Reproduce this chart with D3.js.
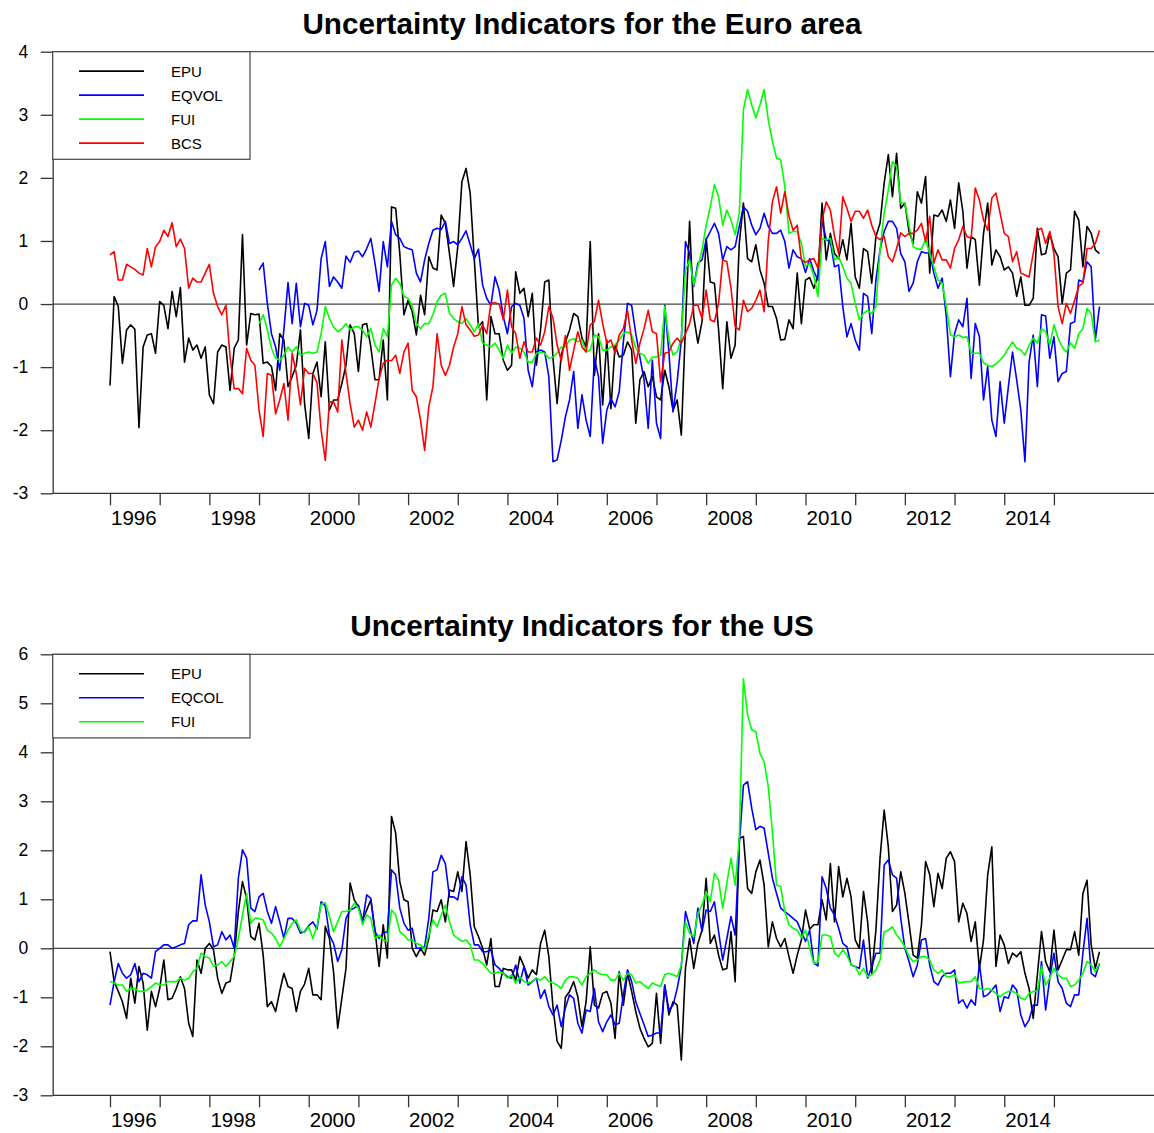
<!DOCTYPE html>
<html>
<head>
<meta charset="utf-8">
<script src="https://cdn.jsdelivr.net/npm/d3@7"></script>
<style>
  body { margin: 0; background: #ffffff; }
  text { font-family: "Liberation Sans", Arial, sans-serif; }
</style>
</head>
<body>
<div id="chart"></div>
<script>
// *****************************************************************************
// data (monthly, standardised)
// *****************************************************************************

var tickYears = [1996, 1997, 1998, 1999, 2000, 2001, 2002, 2003, 2004, 2005,
  2006, 2007, 2008, 2009, 2010, 2011, 2012, 2013, 2014, 2015];
var labelYears = [1996, 1998, 2000, 2002, 2004, 2006, 2008, 2010, 2012, 2014];
var euTicks = [-3, -2, -1, 0, 1, 2, 3, 4];
var usTicks = [-3, -2, -1, 0, 1, 2, 3, 4, 5, 6];

var euTitle = "Uncertainty Indicators for the Euro area";
var usTitle = "Uncertainty Indicators for the US";
var euNames = ["EPU", "EQVOL", "FUI", "BCS"];
var usNames = ["EPU", "EQCOL", "FUI"];
var seriesColors = ["#000000", "#0000ff", "#00ff00", "#ff0000"];

var startYear = 1996;      // Jan 1996
var euVolStartYear = 1999; // Jan 1999

var euEPU = [-1.29, 0.12, -0.04, -0.94, -0.41, -0.33, -0.40, -1.96, -0.68, -0.49,
  -0.47, -0.78, 0.04, -0.02, -0.39, 0.20, -0.20, 0.26, -0.92, -0.54,
  -0.73, -0.65, -0.86, -0.68, -1.44, -1.58, -0.76, -0.65, -0.68, -1.37,
  -0.70, -0.57, 1.10, -0.65, -0.15, -0.17, -0.16, -0.94, -0.92, -0.99,
  -1.37, -0.47, -0.57, -1.31, -1.15, -0.97, -0.41, -1.58, -2.13, -1.10,
  -0.92, -1.47, -0.60, -1.68, -1.52, -1.52, -1.26, -0.97, -0.33, -0.47,
  -1.07, -0.33, -0.31, -0.68, -1.20, -1.20, -0.57, -1.52, 1.54, 1.52,
  0.80, -0.17, 0.06, -0.12, -0.49, 0.14, -0.17, 0.75, 0.57, 0.54,
  1.41, 1.28, 0.80, 0.28, 0.91, 1.94, 2.15, 1.76, 0.70, -0.36,
  -0.28, -1.52, -0.20, -0.47, -0.47, -0.89, -1.05, -0.97, 0.51, 0.17,
  0.25, -0.20, 0.17, -0.97, -0.41, 0.35, 0.38, -0.86, -1.58, -0.80,
  -0.60, -0.41, -0.15, -0.20, -0.54, -0.68, 0.99, -1.13, -0.47, -1.60,
  -0.57, -1.66, -0.65, -0.84, -0.81, -0.60, -0.73, -1.89, -1.20, -1.07,
  -1.31, -1.15, -1.47, -1.52, -1.05, -1.31, -1.68, -1.52, -2.08, -0.36,
  1.31, -0.20, -0.62, -0.28, 1.04, 0.35, 0.33, -0.41, -1.34, -0.28,
  -0.86, -0.65, 0.96, 1.60, 0.72, 0.67, 0.94, 0.54, 0.33, -0.04,
  -0.04, -0.23, -0.57, -0.56, -0.25, -0.39, 0.49, -0.31, 0.38, 0.42,
  0.25, 0.45, 1.60, 0.70, 1.12, 0.80, 0.72, 1.02, 0.70, 1.28,
  0.43, 0.25, 0.88, 0.83, 0.33, 1.07, 1.28, 1.92, 2.37, 1.70,
  2.39, 1.52, 1.60, 1.15, 0.96, 1.78, 1.60, 2.02, 0.49, 1.41,
  1.39, 1.49, 1.31, 1.65, 1.20, 1.92, 1.47, 0.57, 1.07, 1.02,
  0.30, 1.12, 1.60, 0.62, 0.86, 0.75, 0.54, 0.59, 0.49, 0.12,
  0.43, -0.02, -0.02, 0.09, 1.20, 0.78, 0.80, 1.12, 0.88, 0.75,
  0.01, 0.49, 0.54, 1.47, 1.33, 0.59, 1.23, 1.12, 0.86, 0.80];

var euEQVOL = [0.54, 0.65, 0.01, -0.47,
  -0.68, -1.05, -0.41, 0.34, -0.31, 0.33, -0.36, 0.01, -0.02, -0.33,
  -0.10, 0.72, 0.99, 0.28, 0.43, 0.35, 0.25, 0.76, 0.66, 0.82,
  0.84, 0.75, 0.88, 1.04, 0.65, 0.20, 0.99, 0.59, 1.31, 1.10,
  1.04, 0.91, 0.88, 0.86, 0.49, 0.35, 0.70, 0.96, 1.17, 1.20,
  1.18, 1.31, 0.96, 0.99, 0.94, 1.04, 1.16, 0.94, 0.72, 0.87,
  0.30, 0.09, -0.02, 0.43, 0.22, -0.20, -0.47, -0.04, 0.01, -0.02,
  -0.23, -1.05, -1.31, -0.76, -0.73, -0.76, -1.15, -2.50, -2.47, -2.16,
  -1.79, -1.52, -1.07, -1.97, -1.44, -1.84, -2.10, -0.86, -1.15, -2.21,
  -1.68, -1.50, -1.63, -1.39, -0.60, 0.01, -0.02, -0.47, -0.84, -1.20,
  -1.97, -0.89, -1.89, -2.13, -0.02, -0.76, -1.71, -1.23, -0.57, 0.99,
  0.80, 0.28, 0.65, 0.70, 1.02, 1.15, 1.28, 1.12, 0.70, 0.91,
  0.86, 0.91, 1.23, 1.54, 1.47, 1.25, 1.10, 1.20, 1.44, 1.23,
  1.12, 1.12, 1.17, 0.99, 0.57, 0.86, 0.75, 0.72, 0.50, 0.72,
  0.52, 0.38, 1.33, 1.02, 0.99, 0.59, 0.62, -0.04, -0.52, -0.31,
  -0.57, -0.73, 0.17, 0.12, -0.47, 0.38, 0.86, 1.15, 1.31, 1.31,
  1.20, 0.80, 0.67, 0.20, 0.33, 0.67, 0.83, 0.81, 0.81, 0.49,
  0.25, 0.41, -0.20, -1.15, -0.47, -0.25, -0.36, 0.09, -1.18, -0.31,
  -0.52, -1.52, -0.99, -1.84, -2.10, -1.23, -1.89, -1.31, -0.76, -1.20,
  -1.68, -2.50, -0.92, -0.49, -1.31, -0.17, -0.19, -0.86, -0.52, -1.23,
  -1.10, -1.07, -0.31, -0.28, 0.38, 0.35, 0.67, 0.59, -0.57, -0.04];

var euFUI = [-0.31, -0.17, -0.41, -0.70,
  -0.86, -0.89, -0.81, -0.68, -0.76, -0.68, -0.81, -0.78, -0.76, -0.78,
  -0.76, -0.47, -0.04, -0.23, -0.36, -0.44, -0.39, -0.31, -0.41, -0.36,
  -0.36, -0.41, -0.52, -0.39, -0.65, -0.76, -0.39, -0.52, 0.30, 0.41,
  0.33, 0.12, 0.09, -0.04, -0.31, -0.39, -0.31, -0.31, -0.17, 0.04,
  0.14, 0.17, -0.15, -0.23, -0.28, -0.31, -0.23, -0.33, -0.44, -0.31,
  -0.62, -0.65, -0.68, -0.62, -0.73, -0.86, -0.65, -0.78, -0.68, -0.70,
  -0.76, -0.92, -0.92, -0.78, -0.76, -0.78, -0.86, -0.84, -0.78, -0.68,
  -0.68, -0.57, -0.55, -0.60, -0.57, -0.76, -0.73, -0.49, -0.52, -0.73,
  -0.73, -0.68, -0.65, -0.57, -0.47, -0.44, -0.49, -0.70, -0.78, -0.81,
  -0.94, -0.84, -0.84, -0.81, -0.04, -0.57, -0.81, -0.76, -0.54, 0.54,
  0.70, 0.30, 0.59, 0.86, 1.25, 1.54, 1.89, 1.70, 1.25, 1.49,
  1.33, 1.10, 1.44, 3.08, 3.40, 3.16, 2.95, 3.16, 3.40, 2.92,
  2.58, 2.31, 2.29, 1.86, 1.12, 1.15, 1.15, 0.96, 0.60, 0.64,
  0.45, 0.12, 1.04, 1.02, 1.04, 0.70, 0.75, 0.59, 0.41, 0.33,
  0.01, -0.25, -0.15, -0.10, -0.15, -0.04, 0.86, 1.44, 1.81, 2.26,
  2.18, 1.60, 1.60, 1.25, 0.91, 0.87, 0.87, 1.02, 0.80, 0.59,
  0.38, 0.33, -0.04, -0.49, -0.52, -0.49, -0.53, -0.52, -0.78, -0.78,
  -0.78, -0.93, -0.97, -0.99, -0.95, -0.89, -0.81, -0.70, -0.60, -0.70,
  -0.73, -0.81, -0.65, -0.54, -0.62, -0.39, -0.44, -0.65, -0.33, -0.54,
  -0.68, -0.76, -0.62, -0.70, -0.47, -0.39, -0.07, -0.15, -0.60, -0.57];

var euBCS = [0.78, 0.83, 0.38, 0.38, 0.63, 0.59, 0.55, 0.49, 0.46, 0.88,
  0.59, 0.91, 0.99, 1.17, 1.07, 1.29, 0.91, 1.03, 0.88, 0.25,
  0.41, 0.35, 0.35, 0.49, 0.63, 0.17, -0.04, -0.17, -0.02, -0.84,
  -1.34, -1.34, -1.42, -0.70, -0.89, -0.97, -1.68, -2.10, -1.10, -1.13,
  -1.74, -1.52, -1.26, -1.84, -0.78, -1.10, -1.60, -1.02, -1.10, -1.10,
  -1.25, -2.00, -2.48, -1.55, -1.55, -1.71, -0.57, -1.10, -1.58, -1.95,
  -1.84, -2.00, -1.71, -1.95, -1.58, -1.18, -0.94, -0.89, -0.90, -0.81,
  -1.10, -0.76, -0.62, -1.37, -1.47, -1.84, -2.32, -1.63, -1.31, -0.47,
  -0.97, -1.13, -0.97, -0.68, -0.47, -0.04, -0.33, -0.41, -0.51, -0.49,
  -0.33, -0.47, 0.01, 0.02, 0.00, -0.25, 0.22, -0.36, -0.47, -0.86,
  -0.60, -0.76, -0.76, -0.54, -0.65, -0.44, -0.04, -0.22, -0.65, -0.90,
  -0.50, -1.05, -0.73, -0.44, -0.68, -0.76, -0.33, -0.28, 0.06, -0.31,
  -0.62, -0.57, -0.78, -0.49, -0.39, -0.10, -0.57, -0.94, -0.62, -0.39,
  -0.10, -0.44, -0.47, -1.23, -0.78, -0.76, -0.62, -0.54, -0.62, -0.47,
  -0.31, -0.02, -0.02, -0.23, 0.22, -0.25, -0.28, 0.01, 0.70, 0.67,
  0.25, -0.36, -0.41, 0.06, -0.12, -0.07, 0.06, 0.22, -0.12, 1.00,
  1.62, 1.86, 1.44, 1.78, 1.39, 1.17, 1.25, 0.70, 0.66, 0.70,
  0.72, 0.57, 1.33, 1.62, 1.49, 1.07, 0.80, 1.70, 1.52, 1.31,
  1.47, 1.47, 1.36, 1.49, 1.25, 1.07, 1.02, 1.07, 0.75, 0.67,
  0.88, 1.13, 1.07, 1.12, 1.12, 1.17, 1.28, 0.99, 1.39, 0.65,
  0.86, 0.70, 0.70, 0.57, 0.88, 1.02, 1.23, 1.07, 1.04, 1.84,
  1.65, 1.33, 1.17, 1.68, 1.76, 1.44, 1.12, 1.07, 0.67, 0.83,
  0.49, 0.46, 0.43, 0.80, 1.17, 1.20, 0.96, 1.15, 0.80, -0.04,
  -0.31, 0.01, -0.15, 0.06, 0.28, 0.33, 0.88, 0.88, 0.96, 1.17];

var usEPU = [-0.07, -0.68, -0.88, -1.09, -1.43, -0.61, -1.12, -0.37, -0.71, -1.67,
  -0.88, -1.19, -0.82, -0.24, -1.05, -1.02, -0.82, -0.58, -0.82, -1.53,
  -1.80, -0.24, -0.51, 0.00, 0.10, -0.03, -0.61, -0.92, -0.71, -0.68,
  -0.17, 0.75, 1.36, 1.02, 0.24, 0.17, 0.51, -0.14, -1.19, -1.09,
  -1.29, -0.88, -0.51, -0.78, -0.82, -1.29, -0.88, -0.73, -0.41, -0.95,
  -0.95, -1.05, 0.45, 0.20, -0.48, -1.63, -1.02, -0.41, 1.33, 0.99,
  0.85, 0.58, 0.78, 0.99, 0.37, -0.37, 0.48, -0.20, 2.69, 2.35,
  1.36, 0.99, 0.95, 0.00, -0.17, 0.00, -0.14, 0.20, 0.78, 0.75,
  0.99, 0.54, 1.19, 1.16, 1.56, 1.16, 2.18, 1.50, 0.44, 0.24,
  0.00, -0.34, 0.20, -0.78, -0.78, -0.41, -0.44, -0.44, -0.65, -0.17,
  -0.37, -0.61, -0.44, -0.54, 0.10, 0.37, -0.17, -1.20, -1.90, -2.04,
  -1.00, -0.88, -0.68, -0.99, -1.60, -1.09, 0.03, -1.16, -1.22, -0.92,
  -0.88, -1.12, -1.84, -0.48, -1.16, -0.51, -0.88, -1.29, -1.63, -1.84,
  -2.01, -1.94, -0.92, -1.94, -0.75, -1.36, -1.09, -1.16, -2.28, -0.41,
  0.20, -0.41, 0.10, 0.37, 1.43, 0.10, 0.27, -0.14, -0.44, -0.41,
  0.34, -0.68, 2.24, 2.28, 1.22, 1.12, 1.56, 1.80, 1.29, 0.03,
  0.54, 0.20, 0.03, 0.20, -0.17, -0.51, -0.14, 0.17, 0.78, 0.39,
  0.48, 0.48, 0.99, 0.58, 1.73, 0.54, 1.67, 1.05, 1.43, 1.05,
  0.17, 0.00, 1.16, 0.54, -0.51, 0.37, 1.84, 2.82, 2.07, 0.75,
  0.88, 1.56, 1.12, 0.51, -0.14, -0.20, 0.48, 1.77, 1.50, 0.85,
  1.53, 1.22, 1.84, 1.97, 1.77, 0.54, 0.92, 0.71, 0.14, 0.54,
  -0.41, 0.17, 1.50, 2.07, -0.37, 0.27, 0.07, -0.31, -0.10, -0.17,
  -0.07, -0.51, -0.82, -1.43, -0.54, 0.34, -0.27, -0.48, 0.37, -0.44,
  -0.24, -0.03, -0.03, 0.34, -0.14, 1.12, 1.39, 0.07, -0.41, -0.07];

var usEQCOL = [-1.16, -0.68, -0.31, -0.51, -0.61, -0.54, -0.31, -0.68, -0.51, -0.54,
  -0.61, -0.07, 0.00, 0.07, 0.07, 0.00, 0.03, 0.07, 0.10, 0.48,
  0.56, 0.56, 1.50, 0.88, 0.54, 0.03, 0.07, 0.34, 0.17, 0.27,
  0.00, 1.43, 2.01, 1.84, 0.82, 0.75, 1.05, 1.12, 0.75, 0.51,
  0.85, 0.54, 0.20, 0.61, 0.61, 0.51, 0.31, 0.34, 0.46, 0.54,
  0.39, 0.95, 0.86, 0.27, 0.10, -0.27, -0.03, 0.61, 0.78, 0.82,
  0.88, 0.54, 1.09, 1.02, 0.34, 0.20, 0.31, 0.34, 1.60, 1.50,
  0.82, 0.51, 0.37, 0.41, 0.00, 0.00, 0.03, 0.61, 1.56, 1.60,
  1.90, 1.73, 1.05, 1.05, 0.99, 1.46, 1.29, 0.48, 0.07, 0.07,
  -0.07, -0.07, -0.03, -0.34, -0.41, -0.51, -0.58, -0.61, -0.34, -0.71,
  -0.37, -0.75, -0.68, -0.61, -1.02, -0.85, -1.19, -1.36, -1.16, -1.60,
  -1.22, -0.95, -1.02, -1.53, -1.73, -1.26, -1.29, -0.82, -1.50, -1.70,
  -1.50, -1.36, -1.56, -1.53, -0.95, -0.44, -0.68, -1.09, -1.33, -1.56,
  -1.80, -1.77, -1.73, -1.73, -0.75, -1.26, -1.16, -0.82, -0.37, 0.75,
  0.44, 0.10, 0.82, 0.34, 0.78, 0.75, 0.95, 0.34, -0.24, 0.20,
  0.65, 0.27, 2.11, 3.33, 3.40, 2.86, 2.42, 2.49, 2.45, 1.94,
  1.43, 1.12, 0.82, 0.75, 0.68, 0.61, 0.54, 0.34, 0.14, 0.37,
  -0.30, -0.36, 1.46, 1.22, 0.82, 0.68, 0.41, 0.10, 0.03, -0.34,
  -0.37, -0.41, 0.17, -0.61, -0.37, -0.10, -0.10, 1.70, 1.80, 1.50,
  1.43, 0.61, 0.00, -0.27, -0.58, -0.34, 0.17, 0.20, -0.34, -0.68,
  -0.75, -0.58, -0.51, -0.51, -0.44, -1.12, -1.05, -1.22, -1.05, -1.16,
  -0.31, -0.99, -0.95, -0.85, -0.75, -1.29, -0.99, -1.02, -0.75, -0.85,
  -1.36, -1.60, -1.46, -1.16, -1.16, -0.27, -1.26, -0.61, -0.10, -0.68,
  -0.82, -1.12, -1.19, -0.95, -0.95, -0.10, 0.61, -0.51, -0.58, -0.31];

var usFUI = [-0.68, -0.71, -0.75, -0.75, -0.88, -0.82, -0.82, -0.88, -0.88, -0.85,
  -0.78, -0.71, -0.75, -0.75, -0.68, -0.68, -0.68, -0.61, -0.65, -0.61,
  -0.48, -0.41, -0.10, -0.17, -0.20, -0.37, -0.34, -0.27, -0.37, -0.27,
  -0.17, 0.20, 0.68, 1.12, 0.51, 0.61, 0.61, 0.58, 0.37, 0.31,
  0.20, 0.03, 0.20, 0.37, 0.51, 0.58, 0.36, 0.32, 0.44, 0.20,
  0.45, 0.90, 0.93, 0.65, 0.34, 0.54, 0.75, 0.75, 0.78, 0.92,
  0.82, 0.48, 0.68, 0.61, 0.20, 0.27, 0.17, 0.14, 0.78, 0.68,
  0.34, 0.27, 0.17, 0.17, 0.10, 0.07, -0.03, 0.27, 0.58, 0.44,
  0.68, 0.88, 0.54, 0.27, 0.20, 0.14, 0.17, 0.07, -0.24, -0.24,
  -0.31, -0.41, -0.51, -0.51, -0.48, -0.51, -0.61, -0.54, -0.71, -0.58,
  -0.68, -0.71, -0.68, -0.61, -0.65, -0.58, -0.68, -0.71, -0.75, -0.82,
  -0.65, -0.58, -0.58, -0.61, -0.75, -0.58, -0.51, -0.44, -0.51, -0.54,
  -0.54, -0.65, -0.65, -0.51, -0.65, -0.51, -0.54, -0.71, -0.68, -0.75,
  -0.82, -0.71, -0.75, -0.78, -0.54, -0.51, -0.54, -0.58, -0.34, 0.54,
  0.31, 0.24, 0.71, 0.88, 1.16, 0.95, 1.53, 1.39, 0.82, 1.33,
  1.84, 1.29, 2.24, 5.50, 4.76, 4.46, 4.42, 3.98, 3.81, 3.30,
  2.38, 1.29, 1.26, 0.75, 0.48, 0.41, 0.37, 0.22, 0.37, 0.00,
  -0.31, -0.28, 0.27, 0.27, 0.24, -0.10, -0.17, -0.03, -0.14, -0.34,
  -0.37, -0.54, -0.41, -0.58, -0.54, -0.44, -0.24, 0.34, 0.37, 0.44,
  0.27, 0.17, 0.03, -0.17, -0.27, -0.24, -0.17, -0.17, -0.24, -0.44,
  -0.51, -0.44, -0.58, -0.58, -0.54, -0.71, -0.69, -0.68, -0.68, -0.58,
  -0.82, -0.85, -0.82, -0.85, -0.92, -0.99, -0.92, -0.88, -0.88, -0.92,
  -1.02, -1.05, -0.92, -0.88, -0.88, -0.37, -0.75, -0.61, -0.41, -0.54,
  -0.61, -0.61, -0.78, -0.75, -0.65, -0.51, -0.27, -0.34, -0.48, -0.31];

// *****************************************************************************
// svg + shared x scale
// *****************************************************************************

var width = 1154,
  height = 1133;

var svg = d3
  .select("#chart")
  .append("svg")
  .attr("width", width)
  .attr("height", height);

svg.append("rect").attr("width", width).attr("height", height).attr("fill", "white");

var plotLeft = 52.7,
  plotRight = 1154;

var x = d3.scaleLinear().domain([1996, 2016]).range([110, 1103.6]);

drawPanel({
  title: euTitle,
  top: 51.7,
  bottom: 493.3,
  ticks: euTicks,
  names: euNames,
  series: [
    { values: euEPU, start: startYear, color: seriesColors[0] },
    { values: euEQVOL, start: euVolStartYear, color: seriesColors[1] },
    { values: euFUI, start: euVolStartYear, color: seriesColors[2] },
    { values: euBCS, start: startYear, color: seriesColors[3] },
  ],
});

drawPanel({
  title: usTitle,
  top: 654.3,
  bottom: 1095.3,
  ticks: usTicks,
  names: usNames,
  series: [
    { values: usEPU, start: startYear, color: seriesColors[0] },
    { values: usEQCOL, start: startYear, color: seriesColors[1] },
    { values: usFUI, start: startYear, color: seriesColors[2] },
  ],
});

// *****************************************************************************
// drawPanel
// *****************************************************************************

function drawPanel(cfg) {
  var g = svg.append("g");

  var y = d3
    .scaleLinear()
    .domain([d3.min(cfg.ticks), d3.max(cfg.ticks)])
    .range([cfg.bottom, cfg.top]);

  // title
  g.append("text")
    .attr("x", 582)
    .attr("y", cfg.top - 18.2)
    .attr("text-anchor", "middle")
    .style("font-size", "29.7px")
    .style("font-weight", "bold")
    .attr("fill", "#000")
    .text(cfg.title);

  // top frame line
  g.append("line")
    .attr("x1", plotLeft)
    .attr("x2", plotRight)
    .attr("y1", cfg.top)
    .attr("y2", cfg.top)
    .attr("stroke", "#555")
    .attr("stroke-width", 1.3);

  // zero line
  g.append("line")
    .attr("x1", plotLeft)
    .attr("x2", plotRight)
    .attr("y1", y(0))
    .attr("y2", y(0))
    .attr("stroke", "#444")
    .attr("stroke-width", 1.2);

  // y axis (plain hyphen for negatives, like the original)
  var yAxis = g
    .append("g")
    .attr("transform", "translate(" + plotLeft + ",0)")
    .call(
      d3
        .axisLeft(y)
        .tickValues(cfg.ticks)
        .tickSize(12)
        .tickSizeOuter(0)
        .tickPadding(12.5)
        .tickFormat(function (d) {
          return String(d);
        })
    );
  yAxis.select(".domain").attr("stroke", "#333").attr("stroke-width", 1.3);
  yAxis.selectAll(".tick line").attr("stroke", "#333").attr("stroke-width", 1.3);
  yAxis
    .selectAll(".tick text")
    .attr("fill", "#000")
    .style("font-size", "17.5px")
    .style("font-family", '"Liberation Sans", Arial, sans-serif');

  // x axis
  var xAxis = g
    .append("g")
    .attr("transform", "translate(0," + cfg.bottom + ")")
    .call(d3.axisBottom(x).tickValues(tickYears).tickSize(12).tickSizeOuter(0).tickFormat(""));
  xAxis.select(".domain").remove();
  xAxis.selectAll(".tick line").attr("stroke", "#333").attr("stroke-width", 1.3);

  g.append("line")
    .attr("x1", plotLeft)
    .attr("x2", plotRight)
    .attr("y1", cfg.bottom)
    .attr("y2", cfg.bottom)
    .attr("stroke", "#333")
    .attr("stroke-width", 1.3);

  g.selectAll(".yearLabel")
    .data(labelYears)
    .enter()
    .append("text")
    .attr("x", function (d) {
      return x(d + 0.5) - 1;
    })
    .attr("y", cfg.bottom + 32)
    .attr("text-anchor", "middle")
    .style("font-size", "20.5px")
    .attr("fill", "#000")
    .text(function (d) {
      return d;
    });

  // lines
  cfg.series.forEach(function (s) {
    var line = d3
      .line()
      .x(function (d, i) {
        return x(s.start + i / 12);
      })
      .y(function (d) {
        return y(d);
      });

    g.append("path")
      .datum(s.values)
      .attr("fill", "none")
      .attr("stroke", s.color)
      .attr("stroke-width", 1.6)
      .attr("stroke-linejoin", "round")
      .attr("d", line);
  });

  // legend
  var legH = 19.4 + (cfg.names.length - 1) * 24 + 16.2;
  var leg = g.append("g");
  leg
    .append("rect")
    .attr("x", plotLeft)
    .attr("y", cfg.top)
    .attr("width", 250 - plotLeft)
    .attr("height", legH)
    .attr("fill", "white")
    .attr("stroke", "#444")
    .attr("stroke-width", 1.2);

  cfg.names.forEach(function (name, i) {
    var ly = cfg.top + 19.4 + i * 24;
    leg
      .append("line")
      .attr("x1", 79)
      .attr("x2", 144)
      .attr("y1", ly)
      .attr("y2", ly)
      .attr("stroke", seriesColors[i])
      .attr("stroke-width", 1.6);
    leg
      .append("text")
      .attr("x", 171)
      .attr("y", ly)
      .attr("dy", "0.36em")
      .style("font-size", "15px")
      .attr("fill", "#000")
      .text(name);
  });
}
</script>
</body>
</html>
